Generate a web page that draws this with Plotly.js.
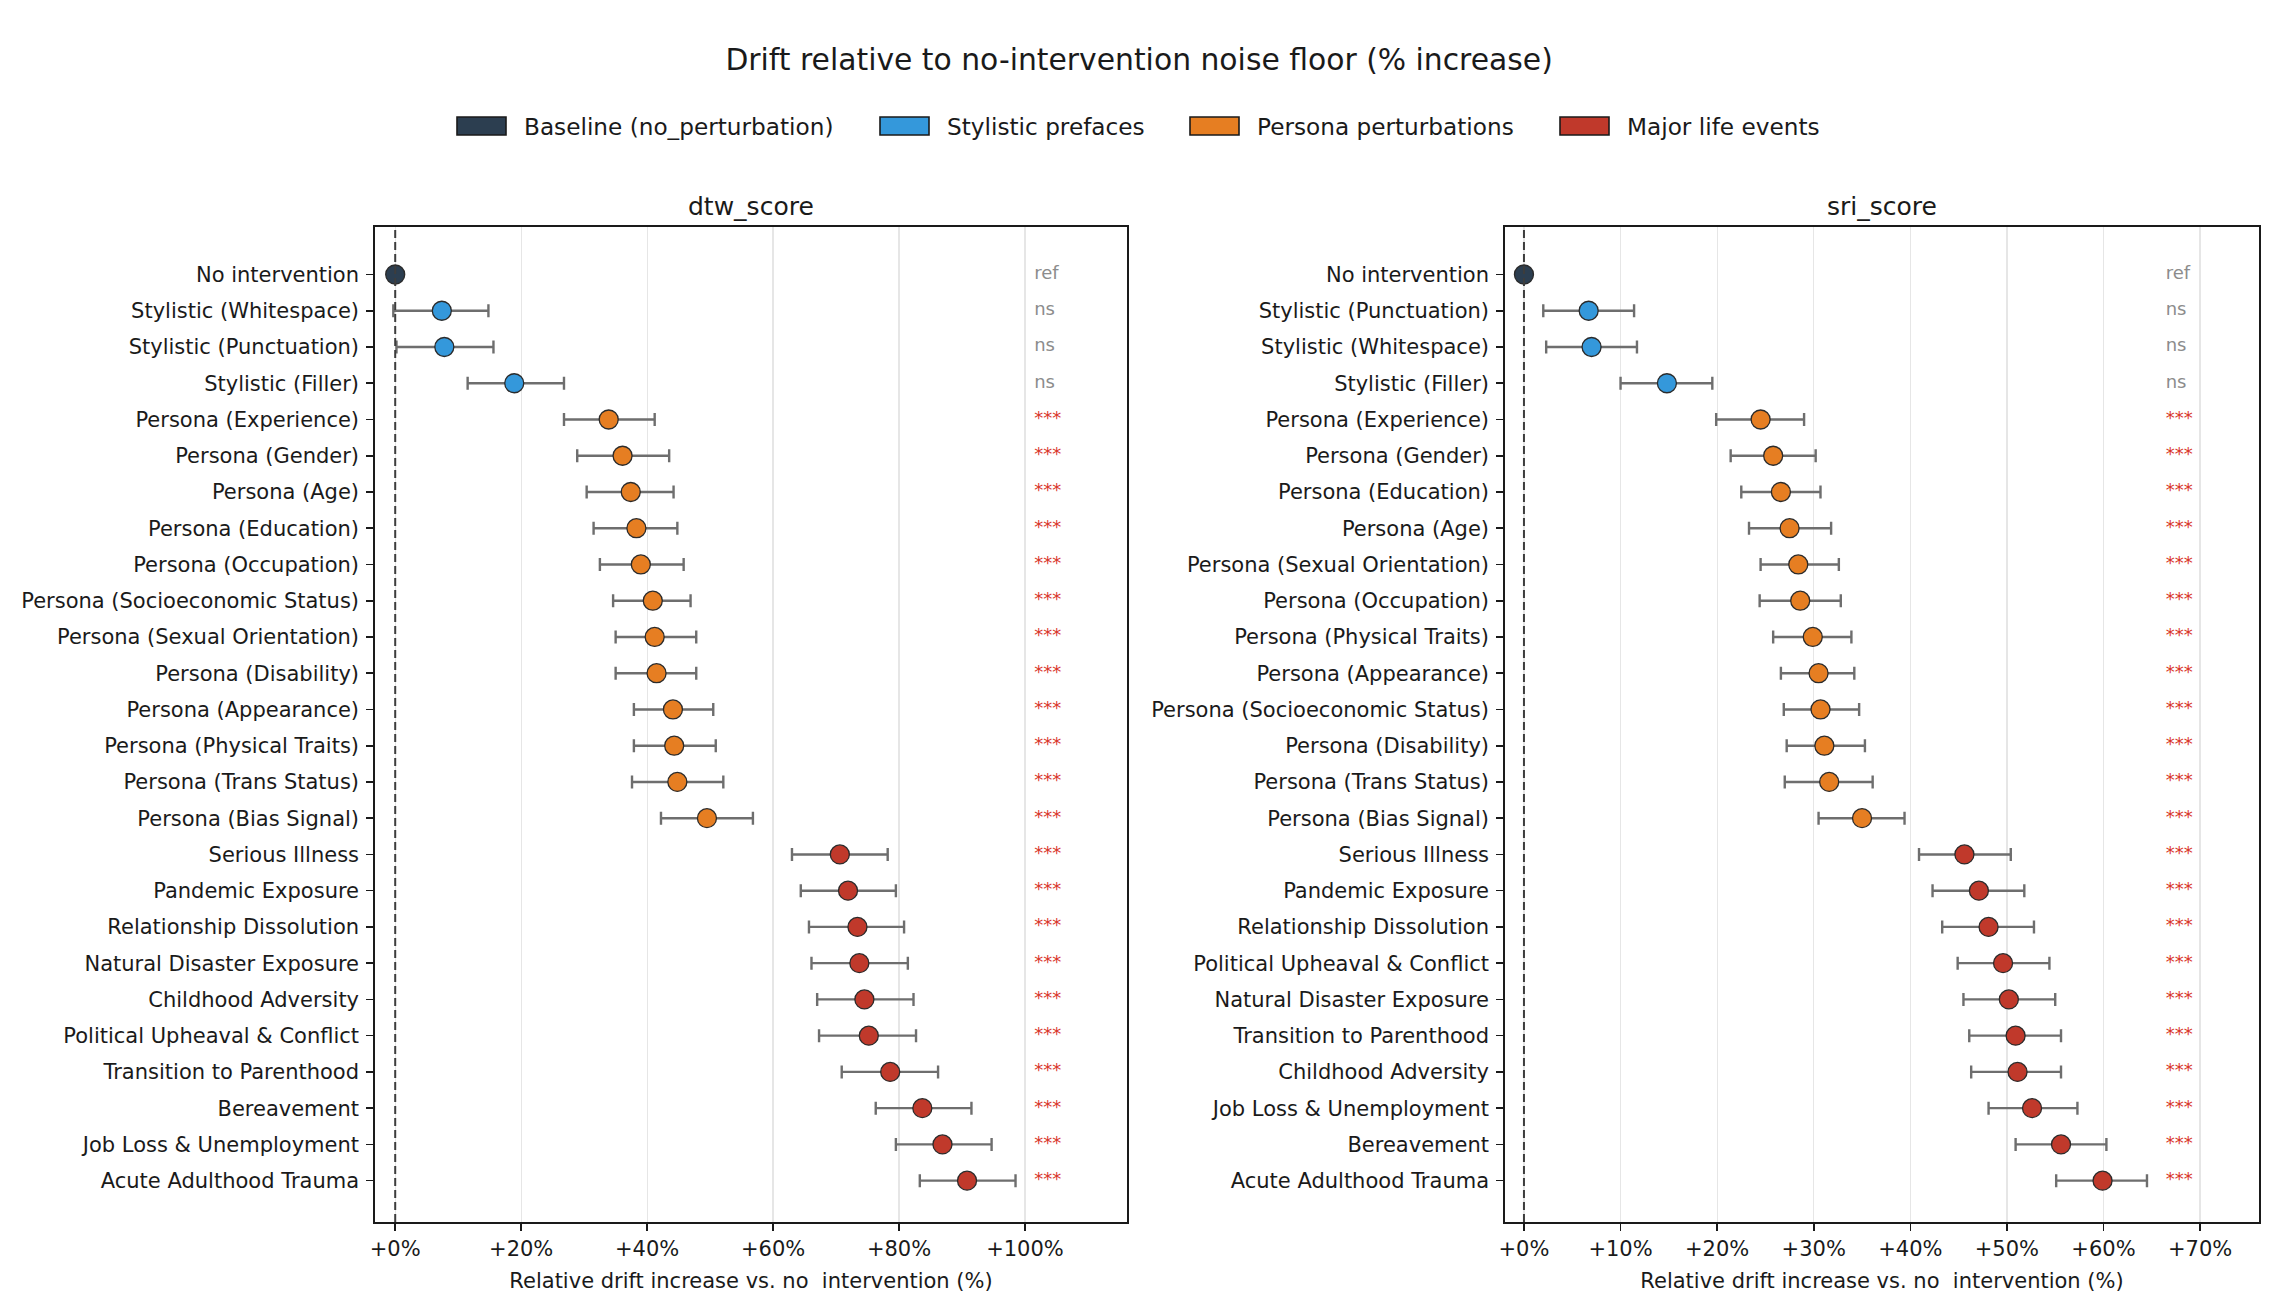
<!DOCTYPE html>
<html>
<head>
<meta charset="utf-8">
<script src="https://cdn.plot.ly/plotly-3.0.1.min.js"></script>
<style>html,body{margin:0;padding:0;background:#fff;}#chart{width:2280px;height:1310px;}</style>
</head>
<body>
<div id="chart"></div>
<script>
// ---------------- DATA ----------------
const groupNames = ["Baseline (no_perturbation)", "Stylistic prefaces", "Persona perturbations", "Major life events"];
const groupColors = ["#2c3e50", "#3498db", "#e67e22", "#c0392b"];

const dtwLabels = ["No intervention","Stylistic (Whitespace)","Stylistic (Punctuation)","Stylistic (Filler)","Persona (Experience)","Persona (Gender)","Persona (Age)","Persona (Education)","Persona (Occupation)","Persona (Socioeconomic Status)","Persona (Sexual Orientation)","Persona (Disability)","Persona (Appearance)","Persona (Physical Traits)","Persona (Trans Status)","Persona (Bias Signal)","Serious Illness","Pandemic Exposure","Relationship Dissolution","Natural Disaster Exposure","Childhood Adversity","Political Upheaval & Conflict","Transition to Parenthood","Bereavement","Job Loss & Unemployment","Acute Adulthood Trauma"];
const dtwMean = [0,7.4,7.8,18.9,33.9,36.1,37.4,38.3,39.0,40.9,41.2,41.5,44.1,44.3,44.8,49.5,70.6,71.9,73.4,73.7,74.5,75.2,78.6,83.7,86.9,90.8];
const dtwLow  = [0,-0.3,0.2,11.5,26.8,28.9,30.4,31.5,32.5,34.6,35.0,35.0,37.9,37.9,37.6,42.2,63.0,64.4,65.7,66.1,67.0,67.3,70.9,76.3,79.5,83.3];
const dtwHigh = [0,14.8,15.6,26.8,41.2,43.5,44.2,44.8,45.8,46.9,47.8,47.8,50.5,50.9,52.1,56.8,78.2,79.5,80.8,81.4,82.3,82.7,86.2,91.5,94.7,98.5];
const dtwSig  = ["ref","ns","ns","ns","***","***","***","***","***","***","***","***","***","***","***","***","***","***","***","***","***","***","***","***","***","***"];

const sriLabels = ["No intervention","Stylistic (Punctuation)","Stylistic (Whitespace)","Stylistic (Filler)","Persona (Experience)","Persona (Gender)","Persona (Education)","Persona (Age)","Persona (Sexual Orientation)","Persona (Occupation)","Persona (Physical Traits)","Persona (Appearance)","Persona (Socioeconomic Status)","Persona (Disability)","Persona (Trans Status)","Persona (Bias Signal)","Serious Illness","Pandemic Exposure","Relationship Dissolution","Political Upheaval & Conflict","Natural Disaster Exposure","Transition to Parenthood","Childhood Adversity","Job Loss & Unemployment","Bereavement","Acute Adulthood Trauma"];
const sriMean = [0,6.7,7.0,14.8,24.5,25.8,26.6,27.5,28.4,28.6,29.9,30.5,30.7,31.1,31.6,35.0,45.6,47.1,48.1,49.6,50.2,50.9,51.1,52.6,55.6,59.9];
const sriLow  = [0,2.0,2.3,10.0,19.9,21.4,22.5,23.3,24.5,24.4,25.8,26.6,26.9,27.2,27.0,30.5,40.9,42.3,43.3,44.9,45.5,46.1,46.3,48.1,50.9,55.1];
const sriHigh = [0,11.4,11.7,19.5,29.0,30.2,30.7,31.8,32.6,32.8,33.9,34.2,34.7,35.3,36.1,39.4,50.4,51.8,52.8,54.4,55.0,55.6,55.6,57.3,60.3,64.5];
const sriSig  = ["ref","ns","ns","ns","***","***","***","***","***","***","***","***","***","***","***","***","***","***","***","***","***","***","***","***","***","***"];

const panelTitles = ["dtw_score", "sri_score"];
const xTitle = "Relative drift increase vs. no\u00a0 intervention (%)";
const mainTitle = "Drift relative to no-intervention noise floor (% increase)";

// ---------------- BUILD ----------------
const FONT = "DejaVu Sans, Liberation Sans, sans-serif";
function groupOf(label) {
  if (label === "No intervention") return 0;
  if (label.startsWith("Stylistic")) return 1;
  if (label.startsWith("Persona")) return 2;
  return 3;
}

const traces = [];
function addPanel(labels, mean, low, high, sig, xa, ya) {
  for (let g = 0; g < 4; g++) {
    const idx = labels.map((l, i) => i).filter(i => groupOf(labels[i]) === g);
    const t = {
      type: "scatter", mode: "markers", xaxis: xa, yaxis: ya, showlegend: false,
      name: groupNames[g],
      x: idx.map(i => mean[i]),
      y: idx.map(i => labels[i]),
      marker: { size: 19, color: groupColors[g], line: { color: "#2b2b2b", width: 1.3 } },
      hoverinfo: "x+y"
    };
    if (g > 0) {
      t.error_x = {
        type: "data", symmetric: false,
        array: idx.map(i => high[i] - mean[i]),
        arrayminus: idx.map(i => mean[i] - low[i]),
        color: "#6e6e6e", thickness: 2.4, width: 6.5
      };
    }
    traces.push(t);
  }
  const xs = Math.max(...high) * 1.03;
  traces.push({
    type: "scatter", mode: "text", xaxis: xa, yaxis: ya, showlegend: false,
    x: labels.map(() => xs), y: labels,
    text: sig, textposition: "middle right",
    textfont: { family: FONT, size: 18, color: sig.map(s => s === "***" ? "#d9372b" : "#8c8c8c") },
    hoverinfo: "skip"
  });
}
addPanel(dtwLabels, dtwMean, dtwLow, dtwHigh, dtwSig, "x", "y");
addPanel(sriLabels, sriMean, sriLow, sriHigh, sriSig, "x2", "y2");

const yDom = [0.0672, 0.8267];
function xAxis(domain, range, dtick) {
  return {
    domain: domain, range: range, dtick: dtick, tick0: 0,
    tickprefix: "+", ticksuffix: "%", showtickprefix: "all",
    showgrid: true, gridcolor: "#e6e6e6", gridwidth: 1.2, zeroline: false,
    showline: true, mirror: true, linecolor: "#1a1a1a", linewidth: 1.8,
    ticks: "outside", ticklen: 7, tickwidth: 1.6, tickcolor: "#1a1a1a",
    tickfont: { family: FONT, size: 21, color: "#1a1a1a" },
    title: { text: xTitle, font: { family: FONT, size: 21, color: "#1a1a1a" }, standoff: 13 },
    fixedrange: true
  };
}
function yAxis(domain, n, anchor) {
  return {
    domain: domain, type: "category", range: [n - 1 + 1.14, -1.31], dtick: 1,
    showgrid: false, zeroline: false, anchor: anchor,
    showline: true, mirror: true, linecolor: "#1a1a1a", linewidth: 1.8,
    ticks: "outside", ticklen: 7, tickwidth: 1.6, tickcolor: "#1a1a1a",
    ticklabelstandoff: 3,
    tickfont: { family: FONT, size: 21, color: "#1a1a1a" },
    fixedrange: true
  };
}

const xDom1 = [0.1645, 0.4943], xDom2 = [0.6601, 0.9908];
const layout = {
  width: 2280, height: 1310,
  margin: { l: 0, r: 0, t: 0, b: 0 },
  paper_bgcolor: "#ffffff", plot_bgcolor: "#ffffff",
  font: { family: FONT, color: "#1a1a1a" },
  showlegend: false,
  title: { text: mainTitle, x: 0.4996, xanchor: "center", y: 1 - 60 / 1310, yanchor: "middle",
           font: { family: FONT, size: 29.8, color: "#1a1a1a" } },
  xaxis: Object.assign(xAxis(xDom1, [-3.2, 116.2], 20), { anchor: "y" }),
  yaxis: yAxis(yDom, dtwLabels.length, "x"),
  xaxis2: Object.assign(xAxis(xDom2, [-1.96, 76.1], 10), { anchor: "y2" }),
  yaxis2: yAxis(yDom, sriLabels.length, "x2"),
  shapes: [], annotations: []
};

// zero reference lines
[["x", "y domain"], ["x2", "y2 domain"]].forEach(([xr, yr]) => {
  layout.shapes.push({ type: "line", xref: xr, yref: yr, x0: 0, x1: 0, y0: 0, y1: 1,
    line: { color: "#3d3d3d", width: 2, dash: "8px,4px" }, layer: "above" });
});

// panel titles
[[xDom1, panelTitles[0]], [xDom2, panelTitles[1]]].forEach(([d, txt]) => {
  layout.annotations.push({ xref: "paper", yref: "paper", x: (d[0] + d[1]) / 2, y: 1 - 206 / 1310,
    xanchor: "center", yanchor: "middle", showarrow: false, text: txt,
    font: { family: FONT, size: 25, color: "#1a1a1a" } });
});

// legend (manual, figure-level)
const legSwatchX = [457, 880, 1190, 1560];
const legSwW = 49, legY0 = 117, legY1 = 135;
for (let g = 0; g < 4; g++) {
  layout.shapes.push({ type: "rect", xref: "paper", yref: "paper",
    x0: legSwatchX[g] / 2280, x1: (legSwatchX[g] + legSwW) / 2280,
    y0: 1 - legY1 / 1310, y1: 1 - legY0 / 1310,
    fillcolor: groupColors[g], line: { color: "#1a1a1a", width: 1.6 } });
  layout.annotations.push({ xref: "paper", yref: "paper",
    x: (legSwatchX[g] + legSwW + 16) / 2280, y: 1 - 126 / 1310,
    xanchor: "left", yanchor: "middle", showarrow: false, text: groupNames[g],
    font: { family: FONT, size: 23.2, color: "#1a1a1a" } });
}

Plotly.newPlot("chart", traces, layout, { displayModeBar: false, staticPlot: true });
</script>
</body>
</html>
